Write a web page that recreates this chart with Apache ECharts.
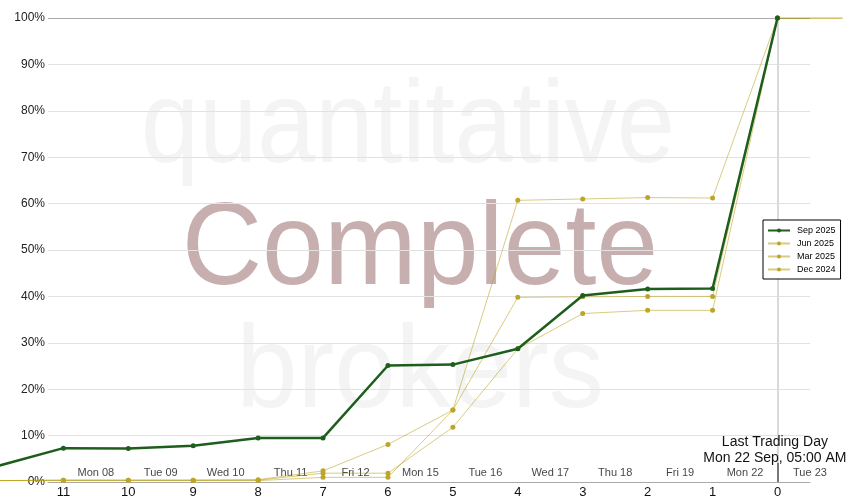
<!DOCTYPE html>
<html>
<head>
<meta charset="utf-8">
<script src="https://cdn.jsdelivr.net/npm/echarts@6/dist/echarts.min.js"></script>
<style>
  html, body { margin: 0; padding: 0; background: #fff; }
  #chart { width: 850px; height: 500px; }
</style>
</head>
<body>
<div id="chart"></div>
<script>
// trading days left before expiry (x), cumulative % of brokers complete (y)
const daysLeft = [12, 11, 10, 9, 8, 7, 6, 5, 4, 3, 2, 1, 0, -1];
const sep2025 = [3.5, 7.3, 7.2, 7.8, 9.5, 9.5, 25.1, 25.3, 28.7, 40.2, 41.6, 41.7, 100, null];
const jun2025 = [0.3, 0.4, 0.4, 0.4, 0.5, 2.4, 8.1, 15.5, 60.7, 61.0, 61.3, 61.2, 100, 100];
const mar2025 = [0.3, 0.3, 0.3, 0.3, 0.3, 1.0, 1.0, 15.5, 39.8, 39.9, 40.0, 40.0, 100, 100];
const dec2024 = [0.3, 0.4, 0.4, 0.4, 0.4, 1.9, 1.9, 11.8, 28.7, 36.3, 37.0, 37.0, 100, 100];

const xTicks = [11, 10, 9, 8, 7, 6, 5, 4, 3, 2, 1, 0];
const dayNames = ["Mon 08", "Tue 09", "Wed 10", "Thu 11", "Fri 12", "Mon 15",
  "Tue 16", "Wed 17", "Thu 18", "Fri 19", "Mon 22", "Tue 23"];
const dayPos = [10.5, 9.5, 8.5, 7.5, 6.5, 5.5, 4.5, 3.5, 2.5, 1.5, 0.5, -0.5];
const lastDayText = "Last Trading Day\nMon 22 Sep, 05:00 AM";

function pairs(vals) {
  let out = [];
  for (let i = 0; i < daysLeft.length; i++) {
    if (vals[i] == null) continue;
    // the point past expiry has no marker
    if (daysLeft[i] < 0) out.push({ value: [daysLeft[i], vals[i]], symbol: "none" });
    else out.push([daysLeft[i], vals[i]]);
  }
  return out;
}

const gold = "#bda52c";
function goldSeries(name, vals) {
  return {
    name: name,
    type: "line",
    xAxisIndex: 1,
    yAxisIndex: 1,
    data: pairs(vals),
    color: gold,
    symbol: "circle",
    symbolSize: 5,
    lineStyle: { width: 1, color: "#b39a00", opacity: 0.5 },
    itemStyle: { color: gold },
    z: 3
  };
}

function watermark(text, x, y, sx, fill) {
  return {
    type: "text", x: x, y: y, scaleX: sx, z: -10, silent: true,
    style: { text: text, font: '116px "Liberation Sans"', fill: fill, align: "center", verticalAlign: "middle" }
  };
}

let chart = echarts.init(document.getElementById("chart"));
chart.setOption({
  animation: false,
  textStyle: { fontFamily: "Liberation Sans, Arial, sans-serif" },
  // grid 0 carries the visible axes, grid 1 (full width) carries the lines
  grid: [
    { left: 48, right: 40, top: 18, bottom: 18 },
    { left: 0, right: 7, top: 18, bottom: 18 }
  ],
  graphic: [
    watermark("quantitative", 408, 130, 0.9, "#f4f4f4"),
    watermark("Complete", 420, 252, 0.96, "#c8afaf"),
    watermark("brokers", 420, 375, 0.95, "#f4f4f4")
  ],
  legend: {
    orient: "vertical",
    left: 763,
    top: 220,
    data: ["Sep 2025", "Jun 2025", "Mar 2025", "Dec 2024"],
    backgroundColor: "#fff",
    borderColor: "#000",
    borderWidth: 1,
    borderRadius: 0,
    padding: [6, 5, 5, 4],
    itemWidth: 22,
    itemHeight: 5,
    itemGap: 4,
    textStyle: { fontSize: 9, color: "#000", padding: [0, 0, 0, 2] }
  },
  xAxis: [
    {
      type: "value",
      gridIndex: 0,
      inverse: true,
      min: -0.5006,
      max: 11.237,
      axisLine: { show: true, lineStyle: { color: "#aaa", width: 1 } },
      axisTick: { show: false },
      splitLine: { show: false },
      axisLabel: { customValues: xTicks, fontSize: 13, color: "#111", margin: 4 }
    },
    {
      type: "value",
      gridIndex: 1,
      inverse: true,
      min: -1.009,
      max: 11.976,
      show: false,
      splitLine: { show: false }
    }
  ],
  yAxis: [
    {
      type: "value",
      gridIndex: 0,
      min: 0,
      max: 100,
      interval: 10,
      axisLine: { show: false },
      axisTick: { show: false },
      axisLabel: { formatter: "{value}%", fontSize: 12, color: "#222", margin: 3 },
      splitLine: {
        lineStyle: {
          color: ["#ddd", "#e2e2e2", "#e2e2e2", "#e2e2e2", "#e2e2e2", "#e2e2e2",
            "#e2e2e2", "#e2e2e2", "#e2e2e2", "#e2e2e2", "#aaa"]
        }
      }
    },
    {
      type: "value",
      gridIndex: 1,
      min: 0,
      max: 100,
      show: false,
      splitLine: { show: false }
    }
  ],
  series: [
    goldSeries("Dec 2024", dec2024),
    goldSeries("Mar 2025", mar2025),
    goldSeries("Jun 2025", jun2025),
    {
      name: "Sep 2025",
      type: "line",
      xAxisIndex: 1,
      yAxisIndex: 1,
      data: pairs(sep2025),
      color: "#1d5e1d",
      symbol: "circle",
      symbolSize: 5,
      lineStyle: { width: 2.5 },
      z: 5,
      markLine: {
        silent: true,
        symbol: "none",
        label: { show: false },
        z: 1,
        lineStyle: { color: "#dadada", width: 2, type: "solid" },
        data: [
          [{ coord: [0, 0] }, { coord: [0, 100] }],
          [{ coord: [0, 0], lineStyle: { color: "#777", width: 2, type: "solid" } }, { coord: [0, 4.1] }]
        ]
      }
    },
    {
      name: "days",
      type: "scatter",
      xAxisIndex: 1,
      yAxisIndex: 1,
      data: dayPos.map((d, i) => ({ value: [d, 2.0], name: dayNames[i] })),
      symbolSize: 0,
      silent: true,
      label: {
        show: true,
        position: "inside",
        formatter: p => p.name,
        fontSize: 11,
        color: "#111"
      },
      markPoint: {
        symbol: "circle",
        symbolSize: 0,
        silent: true,
        label: {
          show: true,
          position: "inside",
          formatter: lastDayText,
          fontSize: 14,
          lineHeight: 16,
          color: "#111",
          align: "center"
        },
        data: [{ coord: [0.04, 6.9] }]
      }
    }
  ]
});
</script>
</body>
</html>
